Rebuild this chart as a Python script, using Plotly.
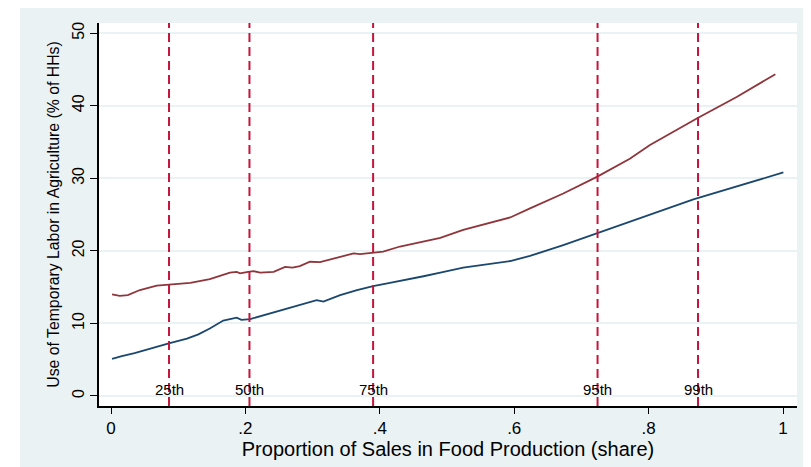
import plotly.graph_objects as go

# --- data ---
red_x = [0.0015, 0.013, 0.025, 0.043, 0.068, 0.086, 0.118, 0.147, 0.165, 0.177, 0.187, 0.192,
         0.204, 0.212, 0.222, 0.242, 0.259, 0.270, 0.281, 0.296, 0.311, 0.331, 0.361, 0.3705,
         0.39, 0.405, 0.43, 0.45, 0.475, 0.49, 0.524, 0.594, 0.6235, 0.673, 0.723, 0.772, 0.802,
         0.873, 0.931, 0.9886]
red_y = [14.0, 13.8, 13.9, 14.6, 15.2, 15.35, 15.6, 16.1, 16.6, 17.0, 17.1, 16.9,
         17.1, 17.2, 17.0, 17.1, 17.8, 17.7, 17.9, 18.5, 18.45, 18.95, 19.65, 19.55,
         19.8, 19.9, 20.6, 21.0, 21.5, 21.8, 22.9, 24.6, 25.85, 27.9, 30.2, 32.7, 34.6,
         38.3, 41.2, 44.35]

blue_x = [0.0015, 0.016, 0.035, 0.053, 0.086, 0.113, 0.130, 0.147, 0.167, 0.187, 0.194, 0.207,
          0.222, 0.2515, 0.276, 0.306, 0.316, 0.341, 0.366, 0.39, 0.415, 0.44, 0.465, 0.49,
          0.524, 0.594, 0.6235, 0.673, 0.723, 0.772, 0.8666, 1.0005]
blue_y = [5.1, 5.5, 5.9, 6.4, 7.25, 7.9, 8.5, 9.3, 10.4, 10.8, 10.5, 10.6,
          11.0, 11.75, 12.4, 13.2, 13.0, 13.9, 14.6, 15.15, 15.6, 16.0, 16.5, 17.0,
          17.7, 18.6, 19.3, 20.8, 22.4, 24.0, 27.1, 30.8]

pct_labels = ["25th", "50th", "75th", "95th", "99th"]
pct_x = [0.0863, 0.206, 0.39, 0.724, 0.8735]

x_tickvals = [0, 0.2, 0.4, 0.6, 0.8, 1]
x_ticktext = ["0", ".2", ".4", ".6", ".8", "1"]
y_tickvals = [0, 10, 20, 30, 40, 50]
y_ticktext = ["0", "10", "20", "30", "40", "50"]

BG = "#EAF2F3"
FONT = "Liberation Sans, Arial, sans-serif"

fig = go.Figure()
fig.add_trace(go.Scatter(x=red_x, y=red_y, mode="lines",
                         line=dict(color="#90353b", width=1.8), showlegend=False))
fig.add_trace(go.Scatter(x=blue_x, y=blue_y, mode="lines",
                         line=dict(color="#1a476f", width=1.8), showlegend=False))

shapes = []
for px in pct_x:
    shapes.append(dict(type="line", xref="x", yref="paper", x0=px, x1=px, y0=0, y1=1,
                       line=dict(color="#C8143C", width=2, dash="9px,5px"), layer="above"))
# white strip on the left of the outer region (figure pixel coords -> paper coords)
L, W, T, H = 91, 698, 15, 383
def px2x(p):
    return (p - L) / W
def py2y(p):
    return (T + H - p) / H
shapes.append(dict(type="rect", xref="paper", yref="paper", x0=px2x(-5), x1=px2x(12),
                   y0=py2y(470), y1=py2y(-5), fillcolor="white", line=dict(width=0), layer="below"))

annotations = []
for lab, px in zip(pct_labels, pct_x):
    annotations.append(dict(x=px, y=0.85, xref="x", yref="y", text=lab, showarrow=False,
                            font=dict(family=FONT, size=15, color="black"),
                            xanchor="center", yanchor="middle"))

fig.update_layout(
    width=803, height=459,
    margin=dict(l=91, r=14, t=15, b=61),
    paper_bgcolor=BG, plot_bgcolor="white",
    shapes=shapes, annotations=annotations,
    font=dict(family=FONT, size=15, color="black"),
    xaxis=dict(range=[-0.0179, 1.0208], tickvals=x_tickvals, ticktext=x_ticktext,
               automargin=False,
               showgrid=False, zeroline=False, showline=True, linecolor="black", linewidth=1.5,
               ticks="outside", ticklen=6, tickwidth=1.2, tickcolor="black",
               tickfont=dict(size=17),
               title=dict(text="Proportion of Sales in Food Production (share)",
                          font=dict(size=20), standoff=0)),
    yaxis=dict(range=[-1.38, 51.4], tickvals=y_tickvals, ticktext=y_ticktext,
               automargin=False,
               showgrid=True, gridcolor=BG, gridwidth=1.5, zeroline=False,
               showline=True, linecolor="black", linewidth=1.5,
               ticks="outside", ticklen=7, tickwidth=1.2, tickcolor="black",
               tickangle=-90, tickfont=dict(size=16),
               title=dict(text="Use of Temporary Labor in Agriculture (% of HHs)",
                          font=dict(size=15.8), standoff=6)),
)

fig.write_html("out.html")
